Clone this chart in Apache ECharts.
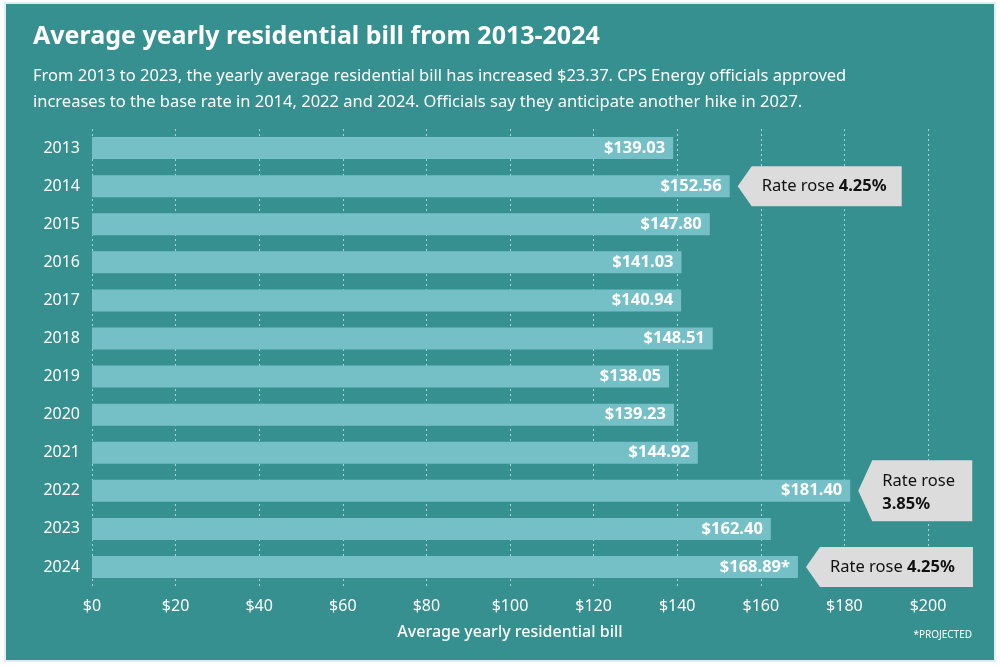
<!DOCTYPE html><html><head><meta charset="utf-8"><script src="https://cdn.jsdelivr.net/npm/echarts@6/dist/echarts.min.js"></script>
<style>html,body{margin:0;background:#e8f0f0}#c{width:1000px;height:666px}</style></head><body><div id="c"></div><script>
const years=['2013','2014','2015','2016','2017','2018','2019','2020','2021','2022','2023','2024'];
const bills=[139.03,152.56,147.80,141.03,140.94,148.51,138.05,139.23,144.92,181.40,162.40,168.89];
const labels=['$139.03','$152.56','$147.80','$141.03','$140.94','$148.51','$138.05','$139.23','$144.92','$181.40','$162.40','$168.89*'];
const ticks=[0,20,40,60,80,100,120,140,160,180,200];
const callouts=[{year:'2014',w:150,h:40},{year:'2022',w:100,h:61,two:true},{year:'2024',w:153,h:40}];
const F='"Noto Sans","Open Sans",sans-serif';
const ch=echarts.init(document.getElementById('c'));
const base=[{type:'rect',shape:{x:5,y:3,width:990,height:658},style:{fill:'#35908f',stroke:'#dfeeee',lineWidth:2},z:-10},
{type:'text',left:33,top:24,style:{text:'Average yearly residential bill from 2013-2024',fill:'#fff',font:'bold 25px '+F}},
{type:'text',left:33,top:63,style:{text:'From 2013 to 2023, the yearly average residential bill has increased $23.37. CPS Energy officials approved\nincreases to the base rate in 2014, 2022 and 2024. Officials say they anticipate another hike in 2027.',fill:'#fff',font:'16.5px '+F,lineHeight:26}},
{type:'text',right:28,top:630,style:{text:'*PROJECTED',fill:'#fff',font:'10px '+F}}];
ch.setOption({backgroundColor:'#fff',animation:false,
grid:{left:92,right:72,top:129,bottom:80},
xAxis:{type:'value',min:0,max:200,interval:20,name:'Average yearly residential bill',nameLocation:'middle',nameGap:38,nameTextStyle:{color:'#fff',fontSize:16,fontFamily:F,fontWeight:500},
axisLabel:{color:'#fff',fontSize:16,fontFamily:F,margin:12,formatter:v=>ticks.includes(v)?'$'+v:''},axisLine:{show:false},axisTick:{show:false},
splitLine:{lineStyle:{color:'#a8d4d4',type:[2,3],width:1}}},
yAxis:{type:'category',data:years,inverse:true,axisLine:{show:false},axisTick:{show:false},axisLabel:{color:'#fff',fontSize:16,fontFamily:F,margin:12,align:'right'}},
series:[{type:'bar',data:bills,barWidth:22,itemStyle:{color:'#74c0c6'},
label:{show:true,position:'insideRight',distance:8,color:'#fff',fontWeight:'bold',fontSize:16.5,fontFamily:F,formatter:p=>labels[p.dataIndex]}}]});
const g=[];
callouts.forEach(c=>{const i=years.indexOf(c.year);const x=ch.convertToPixel({xAxisIndex:0},bills[i])+8;const y=ch.convertToPixel({yAxisIndex:0},c.year);
const a=14,x2=x+a+c.w;
g.push({type:'polygon',shape:{points:[[x,y],[x+a,y-c.h/2],[x2,y-c.h/2],[x2,y+c.h/2],[x+a,y+c.h/2]]},style:{fill:'#dcdcdc'}});
if(c.two){g.push({type:'text',x:x+a+10,y:y-18,style:{text:'Rate rose',fill:'#111',font:'16.5px '+F}});g.push({type:'text',x:x+a+10,y:y+5,style:{text:'3.85%',fill:'#111',font:'bold 16.5px '+F}});}
else g.push({type:'text',x:x+a+10,y:y,style:{text:'{a|Rate rose }{b|4.25%}',verticalAlign:'middle',rich:{a:{fill:'#111',font:'16.5px '+F},b:{fill:'#111',font:'bold 16.5px '+F}}}});});
ch.setOption({graphic:base.concat(g)});
</script></body></html>
